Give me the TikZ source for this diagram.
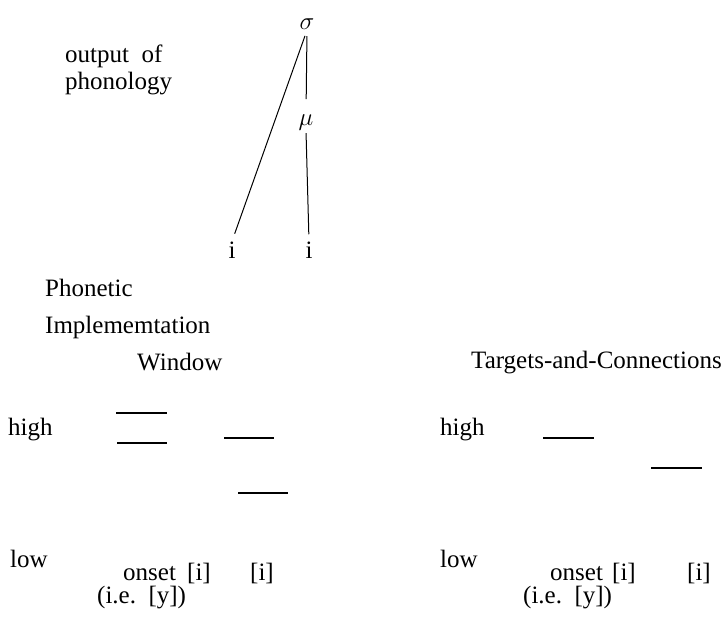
\documentclass[tikz,border=0pt]{standalone}
\usepackage{fontspec}
\setmainfont{Liberation Serif}
\begin{document}
\begin{tikzpicture}[x=1pt,y=-1pt,
  txt/.style={anchor=base west,inner sep=0pt,font=\fontsize{25}{30}\selectfont},
  sym/.style={anchor=base,inner sep=0pt,font=\fontsize{25}{30}\selectfont},
  tree/.style={line width=1pt},
  bar/.style={line width=1.8pt}]
\useasboundingbox (0,0) rectangle (728,623);
% tree
\node[sym] (sigma) at (307,30) {$\sigma$};
\node[sym] (mu) at (306,126) {$\mu$};
\node[sym] (i1) at (232,258) {i};
\node[sym] (i2) at (309,258) {i};
\draw[tree,shorten <=6pt,shorten >=16pt] (sigma.south) -- (mu.north);
\draw[tree,shorten <=2pt,shorten >=7pt] (mu.south) -- (i2.north);
\draw[tree,shorten <=6pt,shorten >=8pt] (sigma.south) -- (i1.north);
% labels
\node[txt] (out) at (65,63) {output\ \ of};
\node[txt] (phon) at (65,90) {phonology};
\node[txt] (phonetic) at (45,296) {Phonetic};
\node[txt] (impl) at (45,333) {Implememtation};
\node[txt] (win) at (137,370) {Window};
\node[txt] (tac) at (471,368) {Targets-and-Connections};
% left panel
\node[txt] (highL) at (8,435) {high};
\node[txt] (lowL) at (10,567) {low};
\draw[bar] (116,413) -- (167,413);
\draw[bar] (117,443) -- (167,443);
\draw[bar] (224,438) -- (274,438);
\draw[bar] (238,493) -- (288,493);
\node[txt] (onsetL) at (123,580) {onset};
\node[txt] (iaL) at (187,580) {[i]};
\node[txt] (ibL) at (250,580) {[i]};
\node[txt] (ieL) at (97,603) {(i.e.\ \ [y])};
% right panel
\node[txt] (highR) at (440,435) {high};
\node[txt] (lowR) at (440,567) {low};
\draw[bar] (543,438) -- (594,438);
\draw[bar] (651,468) -- (702,468);
\node[txt] (onsetR) at (550,580) {onset};
\node[txt] (iaR) at (612,580) {[i]};
\node[txt] (ibR) at (687,580) {[i]};
\node[txt] (ieR) at (523,603) {(i.e.\ \ [y])};
\end{tikzpicture}
\end{document}
